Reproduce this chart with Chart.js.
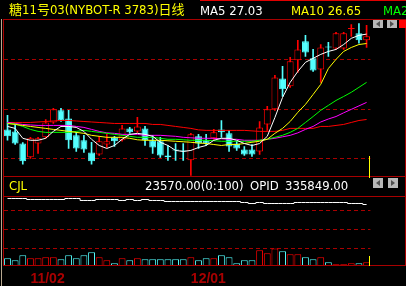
<!DOCTYPE html>
<html><head><meta charset="utf-8">
<script src="https://cdn.jsdelivr.net/npm/chart.js@4.4.1/dist/chart.umd.min.js"></script>
<style>
html,body{margin:0;padding:0;background:#000;}
#wrap{position:relative;width:406px;height:286px;overflow:hidden;background:#000;}
canvas{position:absolute;left:0;}
.ln{position:absolute;z-index:3;}
.tx{position:absolute;z-index:4;white-space:nowrap;font-family:"Liberation Sans Narrow","Arial Narrow","DejaVu Sans Condensed","Noto Sans CJK SC",sans-serif;font-size:13px;line-height:13px;}
.ic{position:absolute;z-index:4;background:#b8b8b8;}
.ar{position:absolute;width:0;height:0;border-top:3px solid transparent;border-bottom:3px solid transparent;}
</style></head><body>
<div id="wrap">
<canvas id="price" width="406" height="177" style="top:0px"></canvas>
<canvas id="vol" width="406" height="109" style="top:177px"></canvas>

<div class="ln" style="left:200px;top:0;width:206px;height:1px;background:#e00000"></div>
<div class="ln" style="left:3px;top:19px;width:403px;height:1px;background:#a80000"></div>
<div class="ln" style="left:3px;top:176px;width:403px;height:1px;background:#a80000"></div>
<div class="ln" style="left:3px;top:196px;width:403px;height:1px;background:#a80000"></div>
<div class="ln" style="left:3px;top:265px;width:403px;height:1px;background:#a80000"></div>
<div class="ln" style="left:3px;top:19px;width:1px;height:247px;background:#a80000"></div>
<div class="ln" style="left:1px;top:19px;width:1px;height:267px;background:#b8a890"></div>
<div class="ln" style="left:405px;top:19px;width:1px;height:247px;background:#a80000"></div>
<div class="ln" style="left:369px;top:156px;width:1px;height:22px;background:#ffff00"></div>
<div class="ln" style="left:369px;top:256px;width:1px;height:10px;background:#ffff00"></div>

<div class="ic" style="left:373px;top:20px;width:10px;height:8px"><div class="ar" style="left:3px;top:1px;border-right:4px solid #505050"></div></div>
<div class="ic" style="left:387px;top:20px;width:10px;height:8px"><div class="ar" style="left:3px;top:1px;border-left:4px solid #505050"></div></div>
<div class="ic" style="left:399px;top:20px;width:7px;height:8px;background:#ff0000"></div>
<div class="ic" style="left:373px;top:178px;width:10px;height:10px"><div class="ar" style="left:3px;top:2px;border-right:4px solid #505050"></div></div>
<div class="ic" style="left:388px;top:178px;width:10px;height:10px"><div class="ar" style="left:3px;top:2px;border-left:4px solid #505050"></div></div>

<div class="tx" style="left:9px;top:3px;color:#ffff00">糖11号03(NYBOT-R 3783)日线</div>
<div class="tx" style="left:200px;top:4px;color:#ffffff">MA5 27.03</div>
<div class="tx" style="left:291px;top:4px;color:#ffff00">MA10 26.65</div>
<div class="tx" style="left:383px;top:4px;color:#00ff00">MA20 25.08</div>
<div class="tx" style="left:9px;top:179px;color:#ffff00">CJL</div>
<div class="tx" style="left:145px;top:179px;color:#ffffff">23570.00(0:100)</div>
<div class="tx" style="left:250px;top:179px;color:#ffffff">OPID</div>
<div class="tx" style="left:285px;top:179px;color:#ffffff">335849.00</div>
</div>
<script>
const dates = ['10/28','10/29','10/30','11/02','11/03','11/04','11/05','11/06','11/09','11/10','11/11','11/12','11/13','11/16','11/17','11/18','11/19','11/20','11/23','11/24','11/25','11/26','11/27','11/30','12/01','12/02','12/03','12/04','12/07','12/08','12/09','12/10','12/11','12/14','12/15','12/16','12/17','12/18','12/21','12/22','12/23','12/24','12/28','12/29','12/30','12/31','01/04','01/05'];
const xTickLabels = ['11/02','12/01'];
const open  = [23.18,23.10,22.61,22.05,22.61,22.86,23.46,23.95,23.62,22.94,22.74,22.25,22.17,22.57,22.86,22.74,23.22,23.10,23.22,22.74,22.70,22.13,22.37,22.33,21.93,22.90,22.74,22.82,23.18,23.02,22.61,22.37,22.37,22.29,23.38,23.99,25.24,24.92,25.97,26.74,26.05,25.60,26.53,26.45,26.45,27.24,27.06,26.78];
const close = [22.90,22.61,21.89,22.82,22.82,23.46,23.99,23.54,22.74,22.41,22.37,21.89,22.70,22.70,22.70,23.22,23.06,23.30,22.74,22.45,22.13,22.05,22.33,22.29,22.98,22.61,22.61,23.06,23.06,22.49,22.41,22.17,22.17,23.26,23.99,25.28,24.80,25.93,26.41,26.29,25.56,26.49,26.49,27.06,27.06,27.28,26.78,26.94];
const high  = [23.75,23.34,22.65,22.86,22.86,23.58,24.03,24.03,23.95,23.06,22.94,22.66,22.90,22.98,22.90,23.34,23.26,23.67,23.30,22.94,22.86,22.53,22.61,22.61,23.02,22.98,22.98,23.18,23.54,23.14,22.70,22.49,22.57,23.50,24.11,25.36,25.73,26.09,26.78,26.98,26.41,26.61,26.70,27.10,27.10,27.42,27.46,27.38];
const low   = [22.74,22.57,21.77,22.01,22.21,22.82,23.42,23.50,22.41,22.29,22.25,21.77,22.13,22.45,22.49,22.70,23.02,23.06,22.53,22.21,22.05,21.93,21.93,21.93,21.32,22.41,22.53,22.78,22.86,22.29,22.33,22.13,22.09,22.17,23.14,23.95,24.51,24.88,25.48,26.13,25.52,25.08,26.13,26.41,26.41,26.94,26.66,26.49];
const ma5   = [23.30,23.22,22.82,22.74,22.74,22.82,23.10,23.30,23.30,23.26,23.10,22.78,22.53,22.41,22.53,22.78,22.98,23.02,22.98,22.90,22.66,22.53,22.33,22.29,22.33,22.45,22.53,22.74,22.82,22.82,22.74,22.61,22.53,22.61,22.90,23.66,24.47,25.08,25.52,25.89,26.05,26.21,26.33,26.41,26.61,26.86,26.98,27.03];
const ma10  = [23.42,23.38,23.34,23.30,23.26,23.22,23.18,23.14,23.10,23.06,23.02,22.94,22.90,22.86,22.86,22.86,22.82,22.76,22.74,22.74,22.74,22.72,22.70,22.68,22.66,22.63,22.61,22.57,22.53,22.57,22.57,22.61,22.66,22.70,22.78,23.02,23.22,23.50,23.87,24.19,24.59,25.00,25.64,26.01,26.33,26.49,26.61,26.65];
const ma20  = [23.42,23.40,23.30,23.18,23.10,23.06,23.06,23.06,23.06,23.10,23.14,23.10,23.06,23.02,22.98,22.94,22.90,22.86,22.86,22.86,22.82,22.78,22.78,22.76,22.74,22.74,22.74,22.72,22.70,22.70,22.70,22.70,22.70,22.74,22.78,22.86,22.94,23.06,23.22,23.46,23.70,23.95,24.15,24.35,24.51,24.68,24.88,25.08];
const ma30  = [23.46,23.42,23.38,23.36,23.34,23.34,23.34,23.34,23.34,23.30,23.26,23.18,23.10,23.04,23.02,22.98,22.98,22.98,22.94,22.94,22.94,22.92,22.90,22.86,22.84,22.82,22.82,22.82,22.80,22.78,22.78,22.74,22.74,22.74,22.78,22.82,22.88,22.94,23.04,23.18,23.30,23.48,23.60,23.70,23.85,23.99,24.13,24.27];
const ma60  = [23.46,23.46,23.46,23.46,23.48,23.50,23.52,23.54,23.54,23.52,23.50,23.48,23.46,23.44,23.42,23.42,23.42,23.42,23.42,23.38,23.38,23.34,23.30,23.26,23.22,23.16,23.14,23.14,23.14,23.14,23.14,23.14,23.12,23.10,23.10,23.10,23.14,23.22,23.22,23.22,23.22,23.30,23.30,23.34,23.38,23.46,23.54,23.58];
const volume = [49280,36410,68630,49350,49170,55820,55640,42870,68520,49310,68470,87690,55730,36520,17260,49340,36480,49290,42910,42880,42950,42860,42930,42890,55710,36530,49260,49330,68540,55690,17340,36470,36510,100540,81260,113280,94130,74870,74920,55680,42930,55710,23650,10920,10880,17310,17280,23570];
const opid = [347852,347861,347830,345872,345849,345818,345866,345840,347851,347829,343862,343845,345833,345858,345847,343851,345860,343836,345849,343857,343841,341852,341866,341839,341848,341857,341843,341860,341851,341838,341849,339854,337862,339841,337853,337848,337866,337839,339851,339846,339860,339833,339849,339855,339842,337851,337860,335849];
const priceGrid = [22, 24, 26];
const volGrid = [113000, 235000, 357000];

const upColor = '#ff0000', downColor = '#54ffff';
const isUp = open.map((o, i) => close[i] >= o);
const candleColor = isUp.map(u => u ? upColor : downColor);
const bodyFill = open.map((o, i) => isUp[i] ? (Math.abs(close[i] - o) < 0.06 ? upColor : '#000000') : downColor);
const bodyData = open.map((o, i) => [o, close[i]]);
const wickData = low.map((l, i) => [l, high[i]]);

const common = {
  responsive: false, animation: false, devicePixelRatio: 1, events: [],
  plugins: { legend: { display: false }, tooltip: { enabled: false } }
};
const maLine = (d, c) => ({ type: 'line', data: d, borderColor: c, borderWidth: 1, pointRadius: 0, tension: 0, order: 1 });

new Chart(document.getElementById('price'), {
  type: 'bar',
  data: {
    labels: dates,
    datasets: [
      maLine(ma5, '#ffffff'),
      maLine(ma10, '#ffff00'),
      maLine(ma20, '#00ff00'),
      maLine(ma30, '#ff00ff'),
      maLine(ma60, '#ff0000'),
      { type: 'bar', data: bodyData, backgroundColor: bodyFill, borderColor: candleColor, borderWidth: 1, borderSkipped: false, grouped: false, barPercentage: 0.9, categoryPercentage: 1, order: 2 },
      { type: 'bar', data: wickData, backgroundColor: candleColor, borderWidth: 0, barThickness: 1, grouped: false, order: 3 }
    ]
  },
  options: Object.assign({}, common, {
    layout: { padding: { left: 3.68, right: 35.6, top: 20, bottom: 1 } },
    scales: {
      x: { display: false, offset: true },
      y: {
        min: 21.297, max: 27.6, position: 'left',
        afterFit(s) { s.width = 0; },
        afterBuildTicks(s) { s.ticks = priceGrid.map(v => ({ value: v })); },
        ticks: { display: false },
        grid: { color: '#a80000', lineWidth: 1, drawTicks: false },
        border: { display: false, dash: [4, 3] }
      }
    }
  })
});

new Chart(document.getElementById('vol'), {
  type: 'bar',
  data: {
    labels: dates,
    datasets: [
      { type: 'line', data: opid, yAxisID: 'y2', borderColor: '#ffffff', borderWidth: 1, pointRadius: 0, stepped: 'middle', order: 1 },
      { type: 'bar', data: volume, backgroundColor: '#000000', borderColor: candleColor, borderWidth: 1, borderSkipped: false, barPercentage: 0.9, categoryPercentage: 1, order: 2 }
    ]
  },
  options: Object.assign({}, common, {
    layout: { padding: { left: 3.68, right: 35.6, top: 20, bottom: 0 } },
    scales: {
      x: {
        offset: true,
        grid: { display: false },
        border: { display: false },
        afterFit(s) { s.height = 20; },
        ticks: {
          autoSkip: false, maxRotation: 0, minRotation: 0, align: 'start', padding: -3,
          color: '#a80000',
          font: { family: 'Liberation Sans', size: 14, weight: 'bold' },
          callback(v, i) { const l = dates[i]; return xTickLabels.includes(l) ? l : ''; }
        }
      },
      y: {
        min: 0, max: 443500, position: 'left',
        afterFit(s) { s.width = 0; },
        afterBuildTicks(s) { s.ticks = volGrid.map(v => ({ value: v })); },
        ticks: { display: false },
        grid: { color: '#a80000', lineWidth: 1, drawTicks: false },
        border: { display: false, dash: [4, 3] }
      },
      y2: { display: false, min: 212849, max: 350849 }
    }
  })
});
</script>
</body></html>
